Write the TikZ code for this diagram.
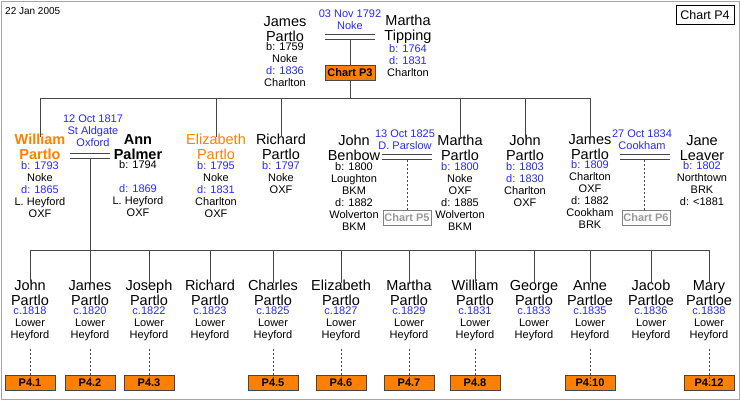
\documentclass[tikz,border=0pt]{standalone}
\usepackage{fontspec}
\setmainfont{Liberation Sans}
\usetikzlibrary{positioning}
\definecolor{bl}{RGB}{40,40,255}
\definecolor{org}{RGB}{255,128,0}
\definecolor{ln}{RGB}{70,70,70}
\tikzset{
 nm/.style={align=center,inner sep=0pt,font=\fontsize{14.5}{15}\selectfont},
 dt/.style={align=center,inner sep=0pt,anchor=north,font=\fontsize{11}{12}\selectfont},
 mr/.style={align=center,inner sep=0pt,text=bl,font=\fontsize{11}{12}\selectfont},
 con/.style={draw=ln,line width=0.8pt},
 dots/.style={draw=ln,dash pattern=on 2pt off 2pt,line width=0.6pt},
 obox/.style={draw=ln,fill=org,minimum width=50pt,minimum height=15pt,inner sep=0pt,font=\bfseries\fontsize{11}{12}\selectfont},
 gbox/.style={draw=gray,fill=white,text=gray!80,minimum width=48pt,minimum height=15pt,inner sep=0pt,font=\bfseries\fontsize{11}{12}\selectfont},
}
\newcommand{\B}[1]{\textcolor{bl}{#1}}
\begin{document}
\begin{tikzpicture}[x=1pt,y=-1pt]
\useasboundingbox (0,0) rectangle (740,400);
\draw[gray!70,line width=1pt] (1,1) rectangle (739,399);
\node[anchor=west,inner sep=0,font=\fontsize{10}{11}\selectfont] (date) at (5,11) {22 Jan 2005};
\node[draw,line width=0.8pt,minimum width=58pt,minimum height=19pt,inner sep=0,font=\fontsize{12.5}{13}\selectfont] (chart) at (705,15) {Chart P4};
% gen 1
\node[nm] (jp) at (285,29) {James\\Partlo};
\node[dt,below=1pt of jp] (jpd) {b: 1759\\Noke\\\B{d: 1836}\\Charlton};
\node[nm] (mt) at (408,29) {Martha\\Tipping};
\node[dt,below=1pt of mt] (mtd) {\B{b: 1764}\\\B{d: 1831}\\Charlton};
\node[mr] (m1) at (350,20) {03 Nov 1792\\Noke};
\coordinate (m1a) at (325,34); \coordinate (m1b) at (375,34);
\draw[con] (m1a) -- (m1b) ([yshift=-5pt]m1a) -- ([yshift=-5pt]m1b);
\coordinate (m1c) at (350,39);
\node[obox] (p3) at (350,73) {Chart P3};
\coordinate (bar1) at (350,98);
\draw[con] (m1c) -- (p3) -- (bar1);
\coordinate (bl1) at (40,98); \coordinate (br1) at (590,98);
\draw[con] (bl1) -- (br1);
% gen 2
\node[nm,text=org,font=\bfseries\fontsize{14.5}{15}\selectfont] (wp) at (40,147) {William\\Partlo};
\node[dt,below=1pt of wp] (wpd) {\B{b: 1793}\\Noke\\\B{d: 1865}\\L. Heyford\\OXF};
\node[nm,font=\bfseries\fontsize{14.5}{15}\selectfont] (ap) at (138,147) {Ann\\Palmer};
\node[dt,below=1pt of ap] (apd) {b: 1794\\[12pt]\B{d: 1869}\\L. Heyford\\OXF};
\node[mr] (m2) at (93,131) {12 Oct 1817\\St Aldgate\\Oxford};
\coordinate (m2a) at (70,153); \coordinate (m2b) at (110,153);
\draw[con] (m2a) -- (m2b) ([yshift=-5pt]m2a) -- ([yshift=-5pt]m2b);
\coordinate (m2c) at (90,158); \coordinate (bar2) at (90,250);
\draw[con] (m2c) -- (bar2);
\node[nm,text=org] (ep) at (216,147) {Elizabeth\\Partlo};
\node[dt,below=1pt of ep] (epd) {\B{b: 1795}\\Noke\\\B{d: 1831}\\Charlton\\OXF};
\node[nm] (rp) at (281,147) {Richard\\Partlo};
\node[dt,below=1pt of rp] (rpd) {\B{b: 1797}\\Noke\\OXF};
\node[nm] (jb) at (354,148) {John\\Benbow};
\node[dt,below=1pt of jb] (jbd) {b: 1800\\Loughton\\BKM\\d: 1882\\Wolverton\\BKM};
\node[mr] (m3) at (405,140) {13 Oct 1825\\D. Parslow};
\coordinate (m3a) at (382,154); \coordinate (m3b) at (432,154);
\draw[con] (m3a) -- (m3b) ([yshift=-5pt]m3a) -- ([yshift=-5pt]m3b);
\coordinate (m3c) at (407,160);
\node[gbox] (p5) at (407,218) {Chart P5};
\draw[dots] (m3c) -- (m3c |- p5.north);
\node[nm] (mp) at (460,148) {Martha\\Partlo};
\node[dt,below=1pt of mp] (mpd) {\B{b: 1800}\\Noke\\OXF\\d: 1885\\Wolverton\\BKM};
\node[nm] (jo) at (525,148) {John\\Partlo};
\node[dt,below=1pt of jo] (jod) {\B{b: 1803}\\\B{d: 1830}\\Charlton\\OXF};
\node[nm] (ja) at (590,147) {James\\Partlo};
\node[dt,below=1pt of ja] (jad) {\B{b: 1809}\\Charlton\\OXF\\d: 1882\\Cookham\\BRK};
\node[mr] (m4) at (642,140) {27 Oct 1834\\Cookham};
\coordinate (m4a) at (620,154); \coordinate (m4b) at (670,154);
\draw[con] (m4a) -- (m4b) ([yshift=-5pt]m4a) -- ([yshift=-5pt]m4b);
\coordinate (m4c) at (644,160);
\node[gbox] (p6) at (646,218) {Chart P6};
\draw[dots] (m4c) -- (m4c |- p6.north);
\node[nm] (jl) at (702,148) {Jane\\Leaver};
\node[dt,below=1pt of jl] (jld) {\B{b: 1802}\\Northtown\\BRK\\d: <1881};
\foreach \n in {wp,ep,rp,mp,jo,ja} \draw[con] (bl1 -| \n) -- ([yshift=-3pt]\n.north);
% gen 3
\coordinate (bl3) at (30,250); \coordinate (br3) at (709,250);
\draw[con] (bl3) -- (br3);
\foreach \x/\first/\last/\yr/\id in {
 30/John/Partlo/1818/c1, 90/James/Partlo/1820/c2, 149/Joseph/Partlo/1822/c3,
 210/Richard/Partlo/1823/c4, 273/Charles/Partlo/1825/c5, 341/Elizabeth/Partlo/1827/c6,
 409/Martha/Partlo/1829/c7, 475/William/Partlo/1831/c8, 534/George/Partlo/1833/c9,
 590/Anne/Partloe/1835/c10, 651/Jacob/Partloe/1836/c11, 709/Mary/Partloe/1838/c12}{
 \node[nm] (\id) at (\x,293) {\first\\\last};
 \node[dt,below=1pt of \id] (\id d) {\B{c.\yr}\\Lower\\Heyford};
 \draw[con] (bl3 -| \id) -- ([yshift=-3pt]\id.north);
}
\foreach \id/\bx in {c1/P4.1,c2/P4.2,c3/P4.3,c5/P4.5,c6/P4.6,c7/P4.7,c8/P4.8,c10/P4.10,c12/P4.12}{
 \node[obox] (\id b) at (\id |- 0,383) {\bx};
 \draw[dots] ([yshift=-8pt]\id d.south) -- ([yshift=-6pt]\id b.north);
}
\end{tikzpicture}
\end{document}
